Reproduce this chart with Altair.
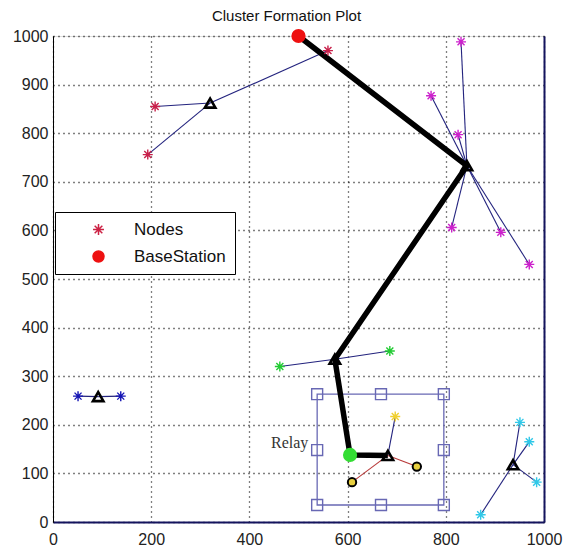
import altair as alt
import pandas as pd

TITLE = "Cluster Formation Plot"
x_ticks = [0, 200, 400, 600, 800, 1000]
y_ticks = [0, 100, 200, 300, 400, 500, 600, 700, 800, 900, 1000]

# cluster heads
clusters = ["A", "B", "C", "D", "E", "F"]
ch_x = [320, 843, 574, 92, 937, 682]
ch_y = [862, 733, 335, 258, 118, 137]
cluster_colors = ["#c8204a", "#cc22cc", "#22cc33", "#1414b4", "#30c8e8", "#f0d030"]

# member nodes
node_x = [208, 193, 560, 831, 770, 825, 812, 912, 970, 462, 686, 51, 138, 951, 970, 985, 871, 697]
node_y = [855, 756, 970, 988, 877, 797, 606, 596, 530, 320, 352, 259, 259, 205, 165, 82, 15, 217]
node_cluster = ["A", "A", "A", "B", "B", "B", "B", "B", "B", "C", "C", "D", "D", "E", "E", "E", "E", "F"]

# relay-side nodes (yellow circles)
relay_node_x = [609, 741]
relay_node_y = [82, 114]

# relay node (green)
relay_x = [605]
relay_y = [138]

# base station
bs_x = [500]
bs_y = [1000]

# routing path
path_x = [500, 843, 574, 605, 682]
path_y = [1000, 733, 335, 138, 137]

# relay selection box
box_x = [538, 668, 796, 538, 796, 538, 668, 796]
box_y = [263, 263, 263, 148, 148, 35, 35, 35]
box_x1, box_x2, box_y1, box_y2 = 538, 796, 35, 263
relay_label_x, relay_label_y = 520, 162

FONT = "Liberation Sans"
ASTER = "M0,-1L0,1M-1,0L1,0M-0.7,-0.7L0.7,0.7M-0.7,0.7L0.7,-0.7"
NAVY = "#14145e"

xs = alt.Scale(domain=[0, 1000], nice=False, zero=False)
ys = alt.Scale(domain=[0, 1000], nice=False, zero=False)
xaxis = alt.Axis(values=x_ticks, format="d", title=None, grid=True, gridDash=[1, 4], gridColor="#000",
                 gridWidth=1.3, gridOpacity=1, ticks=False, domainColor=NAVY, domainWidth=2,
                 labelFont=FONT, labelFontSize=16, labelColor="#222", labelPadding=9,
                 labelFlush=False)
yaxis = alt.Axis(values=y_ticks, format="d", title=None, grid=True, gridDash=[1, 4], gridColor="#000",
                 gridWidth=1.3, gridOpacity=1, ticks=False, domainColor="#000", domainWidth=1,
                 labelFont=FONT, labelFontSize=16, labelColor="#222", labelPadding=5,
                 labelFlush=False)
yaxis_r = alt.Axis(orient="right", title=None, labels=False, ticks=False, grid=False,
                   domainColor=NAVY, domainWidth=2)


def X(f="x"):
    return alt.X(f"{f}:Q", scale=xs, axis=xaxis)


def Y(f="y"):
    return alt.Y(f"{f}:Q", scale=ys, axis=yaxis)


ch_df = pd.DataFrame({"cluster": clusters, "x": ch_x, "y": ch_y})
ch_lookup = dict(zip(clusters, zip(ch_x, ch_y)))
nodes_df = pd.DataFrame({"x": node_x, "y": node_y, "cluster": node_cluster})
nodes_df["cx"] = [ch_lookup[c][0] for c in node_cluster]
nodes_df["cy"] = [ch_lookup[c][1] for c in node_cluster]
rn_df = pd.DataFrame({"x": relay_node_x, "y": relay_node_y})
rn_df["cx"] = ch_lookup["F"][0]
rn_df["cy"] = ch_lookup["F"][1]
path_df = pd.DataFrame({"x": path_x, "y": path_y, "o": list(range(len(path_x)))})
box_df = pd.DataFrame({"x": box_x, "y": box_y})
rect_df = pd.DataFrame({"x": [box_x1], "x2": [box_x2], "y": [box_y1], "y2": [box_y2]})
relay_df = pd.DataFrame({"x": relay_x, "y": relay_y})
bs_df = pd.DataFrame({"x": bs_x, "y": bs_y, "label": ["BaseStation"]})
txt_df = pd.DataFrame({"x": [relay_label_x], "y": [relay_label_y], "t": ["Relay"]})

rect = alt.Chart(rect_df).mark_rect(filled=False, stroke="#6868b4", strokeWidth=1.3).encode(
    x=X(), x2="x2:Q", y=Y(), y2="y2:Q")
squares = alt.Chart(box_df).mark_point(shape="square", filled=False, size=120, stroke="#6868b4",
                                       strokeWidth=1.4, opacity=1).encode(x=X(), y=Y())
links = alt.Chart(nodes_df).mark_rule(color="#23237e", strokeWidth=1.1).encode(
    x=X(), y=Y(), x2="cx:Q", y2="cy:Q")
rlinks = alt.Chart(rn_df).mark_rule(color="#b83a3a", strokeWidth=1.1).encode(
    x=X(), y=Y(), x2="cx:Q", y2="cy:Q")
path = alt.Chart(path_df).mark_line(color="#000", strokeWidth=5.5, strokeJoin="round").encode(
    x=X(), y=Y(), order="o:Q")
relay = alt.Chart(relay_df).mark_point(shape="circle", filled=True, size=200, color="#33dd33",
                                       opacity=1).encode(x=X(), y=Y())
nodes = alt.Chart(nodes_df).mark_point(shape=ASTER, filled=False, size=100, strokeWidth=1.4,
                                       opacity=1).encode(
    x=X(), y=Y(),
    color=alt.Color("cluster:N", scale=alt.Scale(domain=clusters, range=cluster_colors), legend=None))
rnodes = alt.Chart(rn_df).mark_point(shape="circle", filled=True, size=70, fill="#e8d040",
                                     stroke="#000", strokeWidth=2, opacity=1).encode(x=X(), y=Y())
heads = alt.Chart(ch_df).mark_point(shape="triangle-up", filled=False, size=110, stroke="#000",
                                    strokeWidth=2.6, opacity=1).encode(x=X(), y=Y())

leg_dom = ["Nodes", "BaseStation"]
legend = alt.Legend(title=None, orient="none", legendX=2, legendY=176, strokeColor="#000",
                    fillColor="#fff", padding=9, symbolOffset=26, labelOffset=27,
                    labelFont=FONT, labelFontSize=17, labelColor="#111", symbolSize=120,
                    symbolStrokeWidth=1.5, rowPadding=9)
bs = alt.Chart(bs_df).mark_point(filled=True, size=150, opacity=1).encode(
    x=X(), y=Y(),
    fill=alt.Fill("label:N", scale=alt.Scale(domain=leg_dom, range=["#cc2244", "#ee1111"]), legend=legend),
    stroke=alt.Stroke("label:N", scale=alt.Scale(domain=leg_dom, range=["#cc2244", "#ee1111"]), legend=legend),
    shape=alt.Shape("label:N", scale=alt.Scale(domain=leg_dom, range=[ASTER, "circle"]), legend=legend),
)
txt = alt.Chart(txt_df).mark_text(align="right", baseline="middle", font="Liberation Serif",
                                  fontSize=16, color="#333").encode(x=X(), y=Y(), text="t:N")
right_frame = alt.Chart(bs_df).mark_point(opacity=0).encode(
    x=X(), y=alt.Y("y:Q", scale=ys, axis=yaxis_r))

main = alt.layer(rect, squares, links, rlinks, path, relay, nodes, rnodes, heads, bs, txt)

chart = alt.layer(main, right_frame).resolve_axis(y="independent").properties(
    width=491, height=486,
    title=alt.TitleParams(TITLE, font=FONT, fontSize=15, fontWeight="normal", color="#111",
                          frame="group", offset=2, dx=-12),
    autosize=alt.AutoSizeParams(type="none"),
    padding={"left": 53, "top": 36, "right": 19, "bottom": 34},
).configure_view(stroke="#000", strokeWidth=1).configure(background="#fff")

chart.save("out.html", embed_options={"renderer": "svg", "actions": False})
